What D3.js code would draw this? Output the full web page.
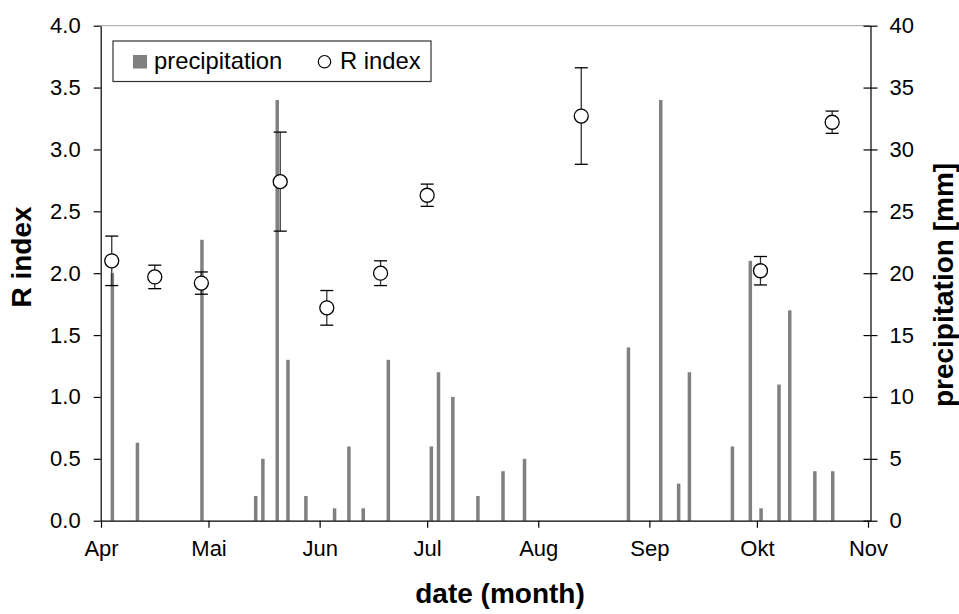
<!DOCTYPE html>
<html>
<head>
<meta charset="utf-8">
<script src="https://cdn.jsdelivr.net/npm/d3@7"></script>
<style>
  body { margin: 0; background: #fff; }
  text { font-family: "Liberation Sans", Arial, sans-serif; fill: #000; }
</style>
</head>
<body>
<svg id="chart" width="959" height="614"></svg>
<script>
// precipitation events (daily sums, mm)
var precipDates = ["2007-04-04", "2007-04-11", "2007-04-29", "2007-05-14", "2007-05-16",
  "2007-05-20", "2007-05-23", "2007-05-28", "2007-06-05", "2007-06-09", "2007-06-13",
  "2007-06-20", "2007-07-02", "2007-07-04", "2007-07-08", "2007-07-15", "2007-07-22",
  "2007-07-28", "2007-08-26", "2007-09-04", "2007-09-09", "2007-09-12", "2007-09-24",
  "2007-09-29", "2007-10-02", "2007-10-07", "2007-10-10", "2007-10-17", "2007-10-22"];
var precipValues = [20, 6.3, 22.7, 2, 5, 34, 13, 2, 1, 6, 1, 13, 6, 12, 10, 2, 4, 5,
  14, 34, 3, 12, 6, 21, 1, 11, 17, 4, 4];

// R index samples with error (+/-)
var rDates = ["2007-04-04", "2007-04-16", "2007-04-29", "2007-05-21", "2007-06-03",
  "2007-06-18", "2007-07-01", "2007-08-13", "2007-10-02", "2007-10-22"];
var rValues = [2.10, 1.97, 1.92, 2.74, 1.72, 2.00, 2.63, 3.27, 2.02, 3.22];
var rErrors = [0.20, 0.095, 0.09, 0.40, 0.14, 0.10, 0.09, 0.39, 0.115, 0.09];

var monthLabels = ["Apr", "Mai", "Jun", "Jul", "Aug", "Sep", "Okt", "Nov"];
var leftTicks = [0, 0.5, 1, 1.5, 2, 2.5, 3, 3.5, 4];
var rightTicks = [0, 5, 10, 15, 20, 25, 30, 35, 40];

var parse = d3.utcParse("%Y-%m-%d");
// plot area edges (px)
var plotL = 100.7, plotR = 870.5, plotT = 25.7, plotB = 520.7;

var svg = d3.select("#chart");

var x = d3.scaleUtc()
  .domain([parse("2007-04-01"), parse("2007-11-01")])
  .range([101, 868]);
var y = d3.scaleLinear().domain([0, 4]).range([plotB, plotT]);
var y2 = d3.scaleLinear().domain([0, 40]).range([plotB, plotT]);

// top border of plot area
svg.append("line")
  .attr("x1", plotL).attr("x2", plotR)
  .attr("y1", plotT).attr("y2", plotT)
  .attr("stroke", "#a0a0a0").attr("stroke-width", 1);

// precipitation bars
var barW = 3.5;
svg.append("g").selectAll("rect")
  .data(precipDates.map(function(d, i) { return { date: parse(d), value: precipValues[i] }; }))
  .enter()
  .append("rect")
  .attr("x", function(d) { return x(d.date) - barW / 2 + 0.6; })
  .attr("width", barW)
  .attr("y", function(d) { return y2(d.value); })
  .attr("height", function(d) { return plotB - y2(d.value); })
  .attr("fill", "#808080");

// axes
var monthTicks = monthLabels.map(function(m, i) { return d3.utcMonth.offset(parse("2007-04-01"), i); });

var xAxis = svg.append("g")
  .attr("transform", "translate(0," + plotB + ")")
  .call(d3.axisBottom(x).tickValues(monthTicks)
    .tickFormat(function(d, i) { return monthLabels[i]; })
    .tickSize(7).tickSizeOuter(0).tickPadding(13));
xAxis.select(".domain").attr("d", "M" + plotL + ",0.5H" + plotR);

var yAxis = svg.append("g")
  .attr("transform", "translate(" + plotL + ",0)")
  .call(d3.axisLeft(y).tickValues(leftTicks).tickFormat(d3.format(".1f"))
    .tickSize(7).tickSizeOuter(0).tickPadding(13));

var y2Axis = svg.append("g")
  .attr("transform", "translate(" + plotR + ",0)")
  .call(d3.axisRight(y2).tickValues(rightTicks).tickFormat(d3.format("d"))
    .tickSize(7).tickSizeOuter(0).tickPadding(12));
y2Axis.selectAll(".tick line").attr("x1", -7);

svg.selectAll(".tick text").attr("font-size", 22).attr("font-family", "Liberation Sans, Arial, sans-serif");
svg.selectAll(".domain, .tick line").attr("stroke", "#000").attr("stroke-width", 1.2);

// R index points with error bars
var pts = rDates.map(function(d, i) { return { date: parse(d), value: rValues[i], err: rErrors[i] }; });
var pg = svg.append("g").selectAll("g").data(pts).enter().append("g");
pg.append("line")
  .attr("x1", function(d) { return x(d.date); })
  .attr("x2", function(d) { return x(d.date); })
  .attr("y1", function(d) { return y(d.value + d.err); })
  .attr("y2", function(d) { return y(d.value - d.err); })
  .attr("stroke", "#333").attr("stroke-width", 1.3);
[1, -1].forEach(function(s) {
  pg.append("line")
    .attr("x1", function(d) { return x(d.date) - 6.5; })
    .attr("x2", function(d) { return x(d.date) + 6.5; })
    .attr("y1", function(d) { return y(d.value + s * d.err); })
    .attr("y2", function(d) { return y(d.value + s * d.err); })
    .attr("stroke", "#000").attr("stroke-width", 1.3);
});
pg.append("circle")
  .attr("cx", function(d) { return x(d.date); })
  .attr("cy", function(d) { return y(d.value); })
  .attr("r", 7)
  .attr("fill", "#fff").attr("stroke", "#000").attr("stroke-width", 1.3);

// legend
var lg = svg.append("g");
lg.append("rect").attr("x", 113).attr("y", 41).attr("width", 318).attr("height", 40.5)
  .attr("fill", "#fff").attr("stroke", "#333").attr("stroke-width", 1.2);
lg.append("rect").attr("x", 133).attr("y", 55).attr("width", 14).attr("height", 13.5).attr("fill", "#808080");
lg.append("text").attr("x", 154).attr("y", 69).attr("font-size", 23.8).text("precipitation");
lg.append("circle").attr("cx", 324.5).attr("cy", 61.7).attr("r", 6.2)
  .attr("fill", "#fff").attr("stroke", "#000").attr("stroke-width", 1.2);
lg.append("text").attr("x", 340).attr("y", 69).attr("font-size", 23.8).text("R index");

// axis titles
svg.append("text")
  .attr("transform", "translate(31,257) rotate(-90)")
  .attr("text-anchor", "middle").attr("font-size", 28).attr("font-weight", "bold")
  .text("R index");
svg.append("text")
  .attr("transform", "translate(953,285) rotate(-90)")
  .attr("text-anchor", "middle").attr("font-size", 28).attr("font-weight", "bold")
  .text("precipitation [mm]");
svg.append("text")
  .attr("x", 500).attr("y", 603)
  .attr("text-anchor", "middle").attr("font-size", 28).attr("font-weight", "bold")
  .text("date (month)");
</script>
</body>
</html>
